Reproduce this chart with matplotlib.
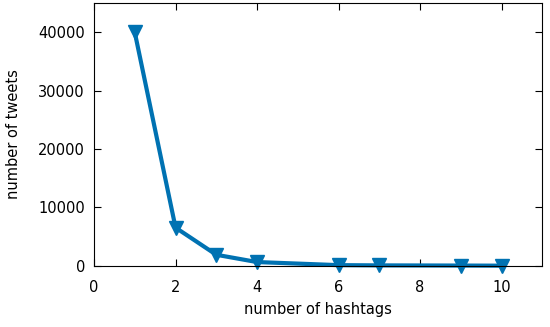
import matplotlib
matplotlib.use("Agg")
import matplotlib.pyplot as plt

# dados
hashtags = [1, 2, 3, 4, 6, 7, 9, 10]
tweets = [40000, 6550, 1900, 650, 120, 80, 50, 30]

fig = plt.figure(figsize=(5.5, 3.27), dpi=100)
ax = fig.add_axes([0.171, 0.187, 0.815, 0.803])

ax.plot(hashtags, tweets, color="#0072b2", linewidth=3, marker="v",
        markersize=10, clip_on=False)

ax.set_xlim(0, 11)
ax.set_ylim(0, 45000)
ax.set_xticks([0, 2, 4, 6, 8, 10])
ax.set_yticks([0, 10000, 20000, 30000, 40000])
ax.tick_params(direction="in", top=True, right=True, labelsize=10.5,
               length=5, width=0.8)
ax.tick_params(axis="x", pad=10)
ax.tick_params(axis="y", pad=6.5)
for s in ax.spines.values():
    s.set_linewidth(0.8)

ax.set_xlabel("number of hashtags", fontsize=10.5, labelpad=5)
ax.set_ylabel("number of tweets", fontsize=10.5, labelpad=12)

fig.savefig("out.png", dpi=100)
